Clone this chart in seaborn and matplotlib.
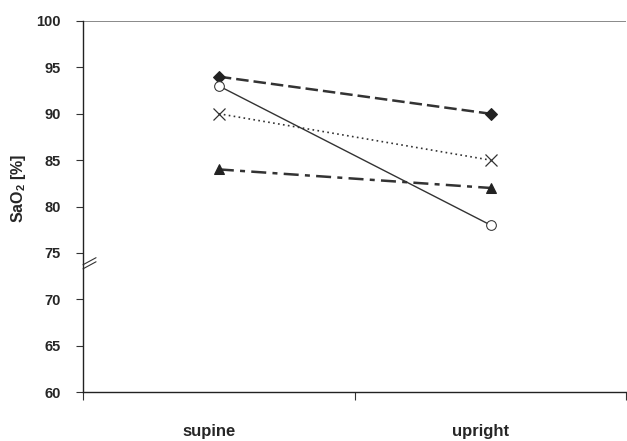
import numpy as np
import pandas as pd
import matplotlib
matplotlib.use('Agg')
import matplotlib.pyplot as plt
from matplotlib.transforms import ScaledTranslation
import seaborn as sns

sns.set_style("white")
plt.rcParams['font.family'] = ['Liberation Sans', 'DejaVu Sans']
plt.rcParams['mathtext.fontset'] = 'custom'
plt.rcParams['mathtext.rm'] = 'Liberation Sans:bold'
plt.rcParams['mathtext.bf'] = 'Liberation Sans:bold'

# datos
posiciones = ['supine', 'upright']
serie_rombo = [94, 90]
serie_circulo = [93, 78]
serie_cruz = [90, 85]
serie_triangulo = [84, 82]
yticks = [60, 65, 70, 75, 80, 85, 90, 95, 100]

df = pd.DataFrame({
    'x': [0, 1] * 4,
    'sao2': serie_rombo + serie_circulo + serie_cruz + serie_triangulo,
    'grupo': ['rombo'] * 2 + ['circulo'] * 2 + ['cruz'] * 2 + ['triangulo'] * 2,
})

fig = plt.figure(figsize=(6.27, 4.41), dpi=100)
ax = fig.add_axes([83 / 627, 1 - 392 / 441, 1 - 83 / 627 - 0.001, (392 - 21) / 441])

estilos = {
    'rombo': dict(marker='D', linestyle=(0, (5, 2)), linewidth=1.8, markersize=6,
                  color='#333333', markerfacecolor='#222222', markeredgecolor='#222222'),
    'circulo': dict(marker='o', linestyle='-', linewidth=1.0, markersize=7,
                    color='#333333', markerfacecolor='white', markeredgecolor='#333333'),
    'cruz': dict(marker='x', linestyle=(0, (1, 2)), linewidth=1.2, markersize=8,
                 color='#333333', markeredgecolor='#333333', markeredgewidth=0.9),
    'triangulo': dict(marker='^', linestyle=(0, (6, 2.5, 2, 2.5)), linewidth=1.8, markersize=7,
                      color='#333333', markerfacecolor='#222222', markeredgecolor='#222222'),
}

for grupo, kw in estilos.items():
    sub = df[df['grupo'] == grupo]
    sns.lineplot(data=sub, x='x', y='sao2', ax=ax, legend=False, **kw)

ax.axhline(100, color='#808080', linewidth=1.3, zorder=0)

ax.set_xlim(-0.5, 1.5)
ax.set_ylim(60, 100)
ax.set_yticks(yticks)
ax.set_yticklabels([str(v) for v in yticks], fontsize=10.5, fontweight='bold')
ax.set_xticks([-0.5, 0.5, 1.5])
ax.set_xticklabels([])
ax.set_xticks([0, 1], minor=True)
ax.set_xticklabels(posiciones, minor=True, fontsize=12, fontweight='bold')
ax.tick_params(axis='x', which='major', bottom=True, direction='out', length=6, width=0.8, color='#333333')
ax.tick_params(axis='x', which='minor', bottom=True, length=0, pad=23)
ax.tick_params(axis='y', left=True, direction='out', length=5, width=0.8, color='#333333', pad=11)
ax.set_xlabel('')
ax.set_ylabel(r'SaO$_2$ [%]', fontsize=11.5, fontweight='bold')
ax.yaxis.set_label_coords(-0.101, 0.55)

# etiquetas un poco a la izquierda, como en el original
for etiqueta in ax.get_xticklabels(minor=True):
    etiqueta.set_transform(etiqueta.get_transform() + ScaledTranslation(-0.10, 0, fig.dpi_scale_trans))

for lado in ['top', 'right']:
    ax.spines[lado].set_visible(False)
for lado in ['left', 'bottom']:
    ax.spines[lado].set_color('#222222')
    ax.spines[lado].set_linewidth(1.0)

# marca de corte del eje
for dy in [0.0, 0.011]:
    ax.plot([0.0, 0.024], [0.343 - dy, 0.362 - dy], transform=ax.transAxes,
            color='#333333', linewidth=0.8, clip_on=False)

fig.savefig('out.png', dpi=100)
